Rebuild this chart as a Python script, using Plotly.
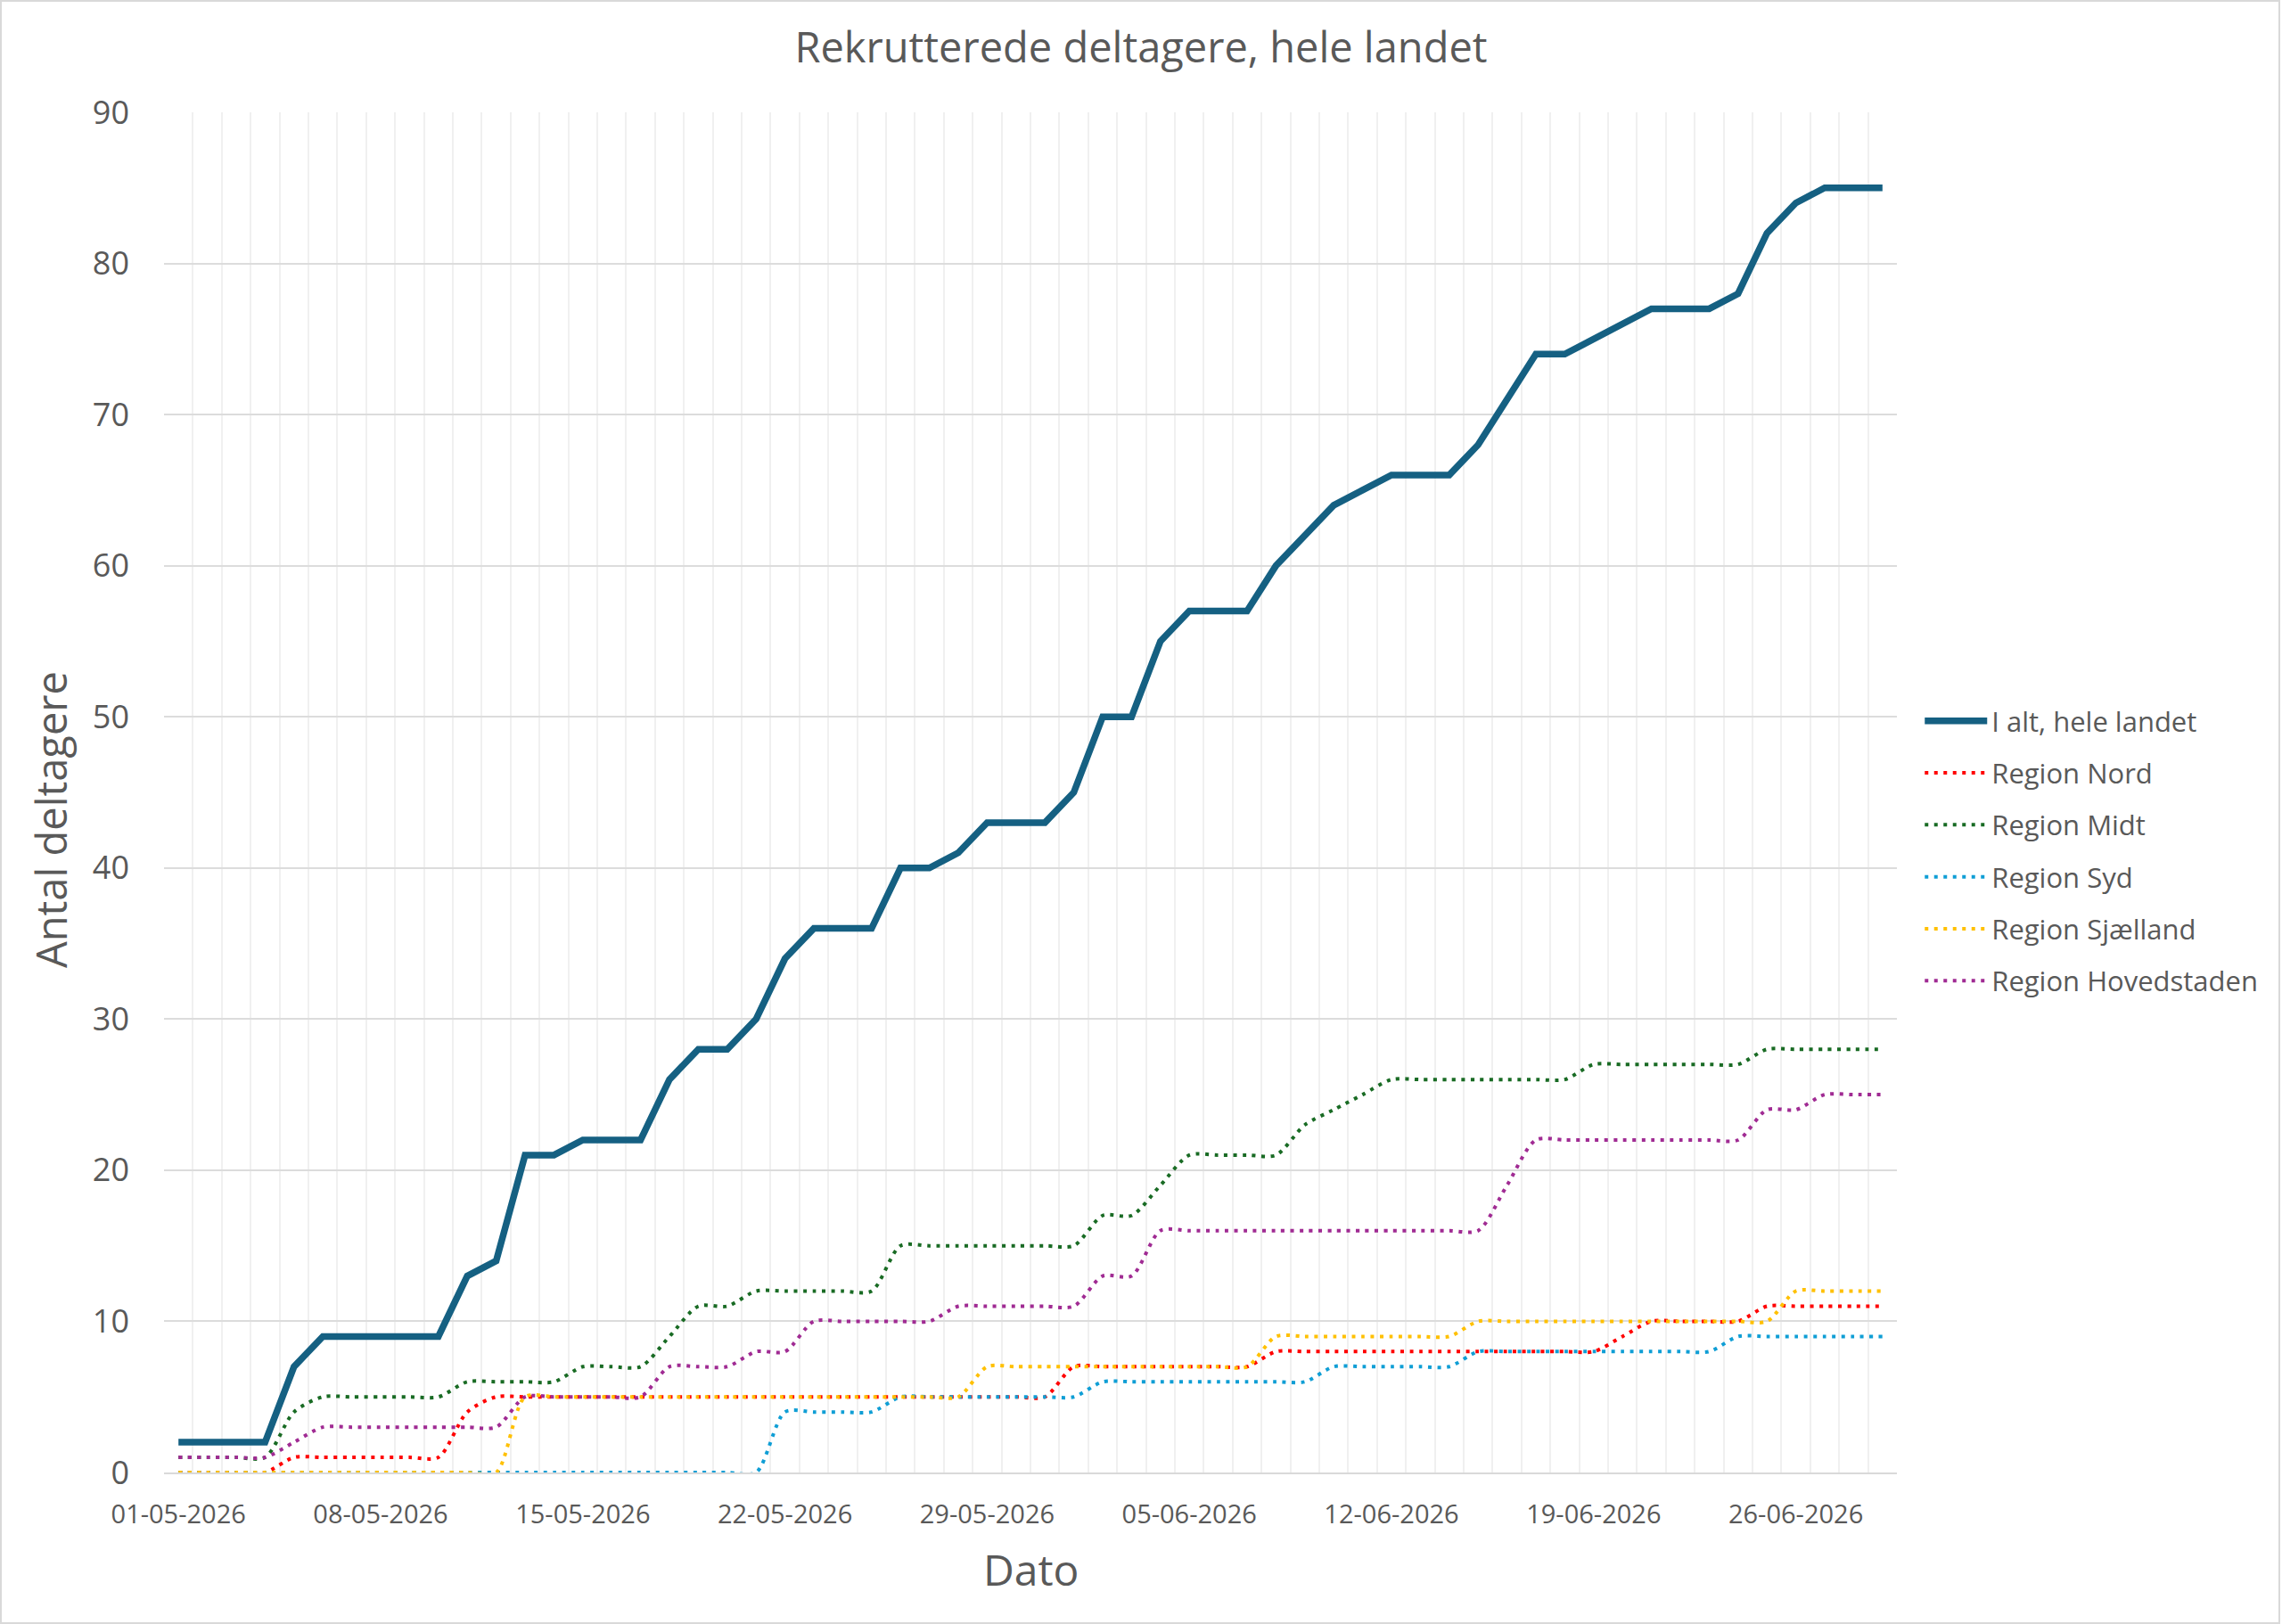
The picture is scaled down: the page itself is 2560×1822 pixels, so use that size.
import plotly.graph_objects as go
import pandas as pd

# Categories: daily dates 01-05-2026 .. 29-06-2026
dates = pd.date_range("2026-05-01", periods=60, freq="D")

total = [2, 2, 2, 2, 7, 9, 9, 9, 9, 9,
         13, 14, 21, 21, 22, 22, 22, 26, 28, 28,
         30, 34, 36, 36, 36, 40, 40, 41, 43, 43,
         43, 45, 50, 50, 55, 57, 57, 57, 60, 62,
         64, 65, 66, 66, 66, 68, 71, 74, 74, 75,
         76, 77, 77, 77, 78, 82, 84, 85, 85, 85]

nord = [0, 0, 0, 0, 1, 1, 1, 1, 1, 1,
        4, 5, 5, 5, 5, 5, 5, 5, 5, 5,
        5, 5, 5, 5, 5, 5, 5, 5, 5, 5,
        5, 7, 7, 7, 7, 7, 7, 7, 8, 8,
        8, 8, 8, 8, 8, 8, 8, 8, 8, 8,
        9, 10, 10, 10, 10, 11, 11, 11, 11, 11]

midt = [1, 1, 1, 1, 4, 5, 5, 5, 5, 5,
        6, 6, 6, 6, 7, 7, 7, 9, 11, 11,
        12, 12, 12, 12, 12, 15, 15, 15, 15, 15,
        15, 15, 17, 17, 19, 21, 21, 21, 21, 23,
        24, 25, 26, 26, 26, 26, 26, 26, 26, 27,
        27, 27, 27, 27, 27, 28, 28, 28, 28, 28]

syd = [0, 0, 0, 0, 0, 0, 0, 0, 0, 0,
       0, 0, 0, 0, 0, 0, 0, 0, 0, 0,
       0, 4, 4, 4, 4, 5, 5, 5, 5, 5,
       5, 5, 6, 6, 6, 6, 6, 6, 6, 6,
       7, 7, 7, 7, 7, 8, 8, 8, 8, 8,
       8, 8, 8, 8, 9, 9, 9, 9, 9, 9]

sjaelland = [0, 0, 0, 0, 0, 0, 0, 0, 0, 0,
             0, 0, 5, 5, 5, 5, 5, 5, 5, 5,
             5, 5, 5, 5, 5, 5, 5, 5, 7, 7,
             7, 7, 7, 7, 7, 7, 7, 7, 9, 9,
             9, 9, 9, 9, 9, 10, 10, 10, 10, 10,
             10, 10, 10, 10, 10, 10, 12, 12, 12, 12]

hovedstaden = [1, 1, 1, 1, 2, 3, 3, 3, 3, 3,
               3, 3, 5, 5, 5, 5, 5, 7, 7, 7,
               8, 8, 10, 10, 10, 10, 10, 11, 11, 11,
               11, 11, 13, 13, 16, 16, 16, 16, 16, 16,
               16, 16, 16, 16, 16, 16, 19, 22, 22, 22,
               22, 22, 22, 22, 22, 24, 24, 25, 25, 25]

series = [
    ("Region Nord", nord, "#FF0000"),
    ("Region Midt", midt, "#196B24"),
    ("Region Syd", syd, "#0F9ED5"),
    ("Region Sjælland", sjaelland, "#FFC000"),
    ("Region Hovedstaden", hovedstaden, "#A02B93"),
]

FONT = "Open Sans"
TXT = "#595959"

fig = go.Figure()
fig.add_trace(go.Scatter(
    x=dates, y=total, name="I alt, hele landet", mode="lines",
    line=dict(color="#156082", width=7.5), legendgroup="g0",
))
for name, vals, color in series:
    fig.add_trace(go.Scatter(
        x=dates, y=vals, name=name, mode="lines", legendgroup=name,
        line=dict(color=color, width=4, dash="4px,6.5px",
                  shape="spline", smoothing=0.8),
    ))

W, H = 2560, 1822
L, R, T, B = 184, 432, 126, 170
pw, ph = W - L - R, H - T - B

fig.update_layout(
    width=W, height=H,
    margin=dict(l=L, r=R, t=T, b=B, autoexpand=False),
    paper_bgcolor="white", plot_bgcolor="white",
    font=dict(family=FONT, color=TXT),
    title=dict(text="Rekrutterede deltagere, hele landet",
               x=0.5, xanchor="center", y=1 - 54 / H, yanchor="middle",
               font=dict(size=47, color=TXT, family=FONT)),
    showlegend=True,
    legend=dict(x=1.0135, xanchor="left", y=0.457, yanchor="middle",
                font=dict(size=31, color=TXT, family=FONT),
                tracegroupgap=15, itemwidth=70, bgcolor="rgba(0,0,0,0)"),
    xaxis=dict(
        range=["2026-04-30 12:00", "2026-06-29 12:00"],
        tick0="2026-05-01", dtick=7 * 86400000, tickformat="%d-%m-%Y",
        showgrid=False, ticks="", tickfont=dict(size=29, color=TXT),
        ticklabelstandoff=20,
        showline=True, linecolor="#D9D9D9", linewidth=2,
        minor=dict(tick0="2026-04-30 12:00", dtick=86400000,
                   showgrid=True, gridcolor="#F0F0F0", gridwidth=1.5),
        automargin=False, zeroline=False,
    ),
    yaxis=dict(
        range=[0, 90], dtick=10, showgrid=True, gridcolor="#DCDCDC",
        gridwidth=2, ticks="", tickfont=dict(size=36, color=TXT),
        ticklabelstandoff=38, zeroline=False,
        automargin=False,
    ),
    annotations=[
        dict(text="Antal deltagere", xref="paper", yref="paper",
             x=(57 - L) / pw, y=(H - B - 920) / ph, xanchor="center",
             yanchor="middle", textangle=-90, showarrow=False,
             font=dict(size=47, color=TXT, family=FONT)),
        dict(text="Dato", xref="paper", yref="paper",
             x=(1156 - L) / pw, y=-(1760 - (H - B)) / ph, xanchor="center",
             yanchor="middle", showarrow=False,
             font=dict(size=48, color=TXT, family=FONT)),
    ],
    shapes=[dict(type="rect", xref="paper", yref="paper",
                 x0=(1 - L) / pw, x1=(W - 3 - L) / pw,
                 y0=-(B - 1) / ph, y1=(ph + T - 1) / ph,
                 line=dict(color="#D9D9D9", width=2), layer="below")],
)

fig.write_html("out.html")
